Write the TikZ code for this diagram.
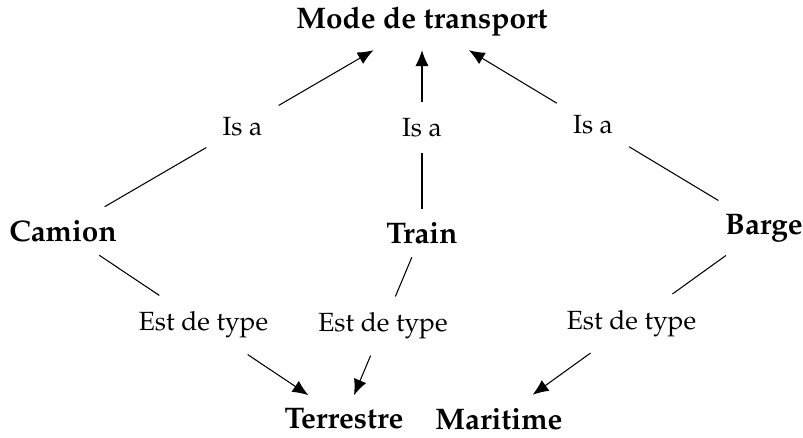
\documentclass[tikz,border=0pt]{standalone}
\usepackage[T1]{fontenc}
\usepackage{mathpazo}
\usetikzlibrary{calc,arrows.meta}

\begin{document}
\begin{tikzpicture}[x=0.38pt,y=-0.38pt,
	concept/.style={font=\fontsize{11.3}{13}\selectfont\bfseries, inner sep=5pt},
	rel/.style={inner sep=6pt},
	link/.style={line width=0.4pt},
	isa/.style={line width=0.4pt, -{Latex[length=6pt,width=5pt]}}]
	\useasboundingbox (0,0) rectangle (803,437);
	% concepts
	\node[concept] (mode) at (422,22) {Mode de transport};
	\node[concept] (camion) at (63,231) {Camion};
	\node[concept] (train) at (422,233) {Train};
	\node[concept] (barge) at (764,228) {Barge};
	\node[concept] (terre) at (344,419) {Terrestre};
	\node[concept] (mer) at (499,419) {Maritime};
	% relations
	\node[rel] (isa1) at ($(camion)!0.5!(mode)$) {Is a};
	\node[rel] (isa2) at ($(train)!0.5!(mode)$) {Is a};
	\node[rel] (isa3) at ($(barge)!0.5!(mode)$) {Is a};
	\node[rel] (type1) at ($(camion)!0.5!(terre)$) {Est de type};
	\node[rel] (type2) at ($(train)!0.5!(terre)$) {Est de type};
	\node[rel] (type3) at ($(barge)!0.5!(mer)$) {Est de type};
	\draw[link] (camion) -- (isa1);
	\draw[isa] (isa1) -- (mode);
	\draw[link] (train) -- (isa2);
	\draw[isa] (isa2) -- (mode);
	\draw[link] (barge) -- (isa3);
	\draw[isa] (isa3) -- (mode);
	\draw[link] (camion) -- (type1);
	\draw[isa] (type1) -- (terre);
	\draw[link] (train) -- (type2);
	\draw[isa] (type2) -- (terre);
	\draw[link] (barge) -- (type3);
	\draw[isa] (type3) -- (mer);
\end{tikzpicture}
\end{document}
